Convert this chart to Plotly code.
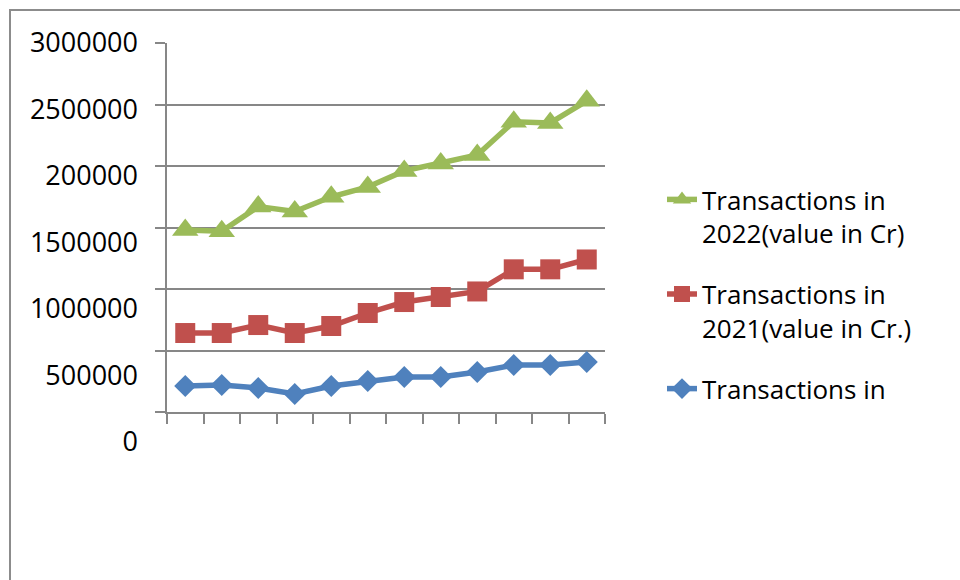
import plotly.graph_objects as go

months = list(range(1, 13))
tx_2022 = [1480000, 1470000, 1670000, 1630000, 1750000, 1830000, 1960000, 2020000, 2090000, 2360000, 2350000, 2530000]
tx_2021 = [642000, 642000, 707000, 642000, 699000, 805000, 894000, 935000, 980000, 1160000, 1160000, 1240000]
tx_2020 = [211000, 220000, 195000, 146000, 211000, 252000, 285000, 285000, 325000, 382000, 382000, 407000]

y_tick_vals = [0, 500000, 1000000, 1500000, 2000000, 2500000, 3000000]
y_tick_text = ["0", "500000", "1000000", "1500000", "200000", "2500000", "3000000"]

names = ["Transactions in<br>2022(value in Cr)", "Transactions in<br>2021(value in Cr.)", "Transactions in"]
colors = ["#9BBB59", "#C0504D", "#4F81BD"]
symbols = ["triangle-up", "square", "diamond"]
sizes = [23, 20, 17]

W, H = 960, 580
FONT = "Open Sans"
GRID = "#878787"

fig = go.Figure()
for i, (vals, nm) in enumerate(zip([tx_2022, tx_2021, tx_2020], names)):
    fig.add_trace(go.Scatter(
        x=months, y=vals, name=nm, mode="lines+markers",
        line=dict(color=colors[i], width=5.5),
        marker=dict(symbol=symbols[i], size=sizes[i], color=colors[i]),
        legendgroup=f"g{i}",
    ))
# carrier trace for the separate label axis (left of the plot)
fig.add_trace(go.Scatter(x=[None], y=[None], xaxis="x2", yaxis="y2",
                         showlegend=False, hoverinfo="skip"))

fig.update_layout(
    width=W, height=H,
    margin=dict(l=0, r=0, t=0, b=0, pad=0, autoexpand=False),
    paper_bgcolor="white", plot_bgcolor="rgba(0,0,0,0)",
    font=dict(family=FONT, size=27, color="black"),
    showlegend=True,
    legend=dict(x=662 / W, xanchor="left", y=1 - 176 / H, yanchor="top",
                font=dict(size=26, color="black"), valign="top",
                tracegroupgap=24, bgcolor="rgba(0,0,0,0)"),
    xaxis=dict(domain=[167 / W, 605 / W], range=[0.5, 12.5], automargin=False,
               tickmode="array", tickvals=[k + 0.5 for k in range(0, 13)],
               ticks="outside", ticklen=10, tickcolor=GRID, tickwidth=1.5,
               showticklabels=False, showgrid=False, zeroline=False,
               showline=True, linecolor=GRID, linewidth=1.5),
    yaxis=dict(domain=[1 - 412 / H, 1 - 43 / H], range=[0, 3000000], automargin=False,
               tickmode="array", tickvals=y_tick_vals,
               ticks="outside", ticklen=10, tickcolor=GRID, tickwidth=1.5,
               showticklabels=False, showgrid=True, gridcolor=GRID, gridwidth=1.5,
               zeroline=False, showline=True, linecolor=GRID, linewidth=1.5),
    xaxis2=dict(domain=[139 / W, 145 / W], range=[0, 1], anchor="y2",
                visible=False, automargin=False),
    yaxis2=dict(domain=[1 - 442 / H, 1 - 42.5 / H], range=[0, 3000000],
                anchor="x2", side="left", automargin=False,
                tickmode="array", tickvals=y_tick_vals, ticktext=y_tick_text,
                ticks="", showgrid=False, zeroline=False, showline=False,
                tickfont=dict(size=27, color="black", family=FONT)),
    shapes=[dict(type="rect", xref="paper", yref="paper",
                 x0=10 / W, x1=1.05, y0=-0.05, y1=1 - 10 / H,
                 line=dict(color="#8C8C8C", width=2), layer="below")],
)

fig.write_html("out.html")
